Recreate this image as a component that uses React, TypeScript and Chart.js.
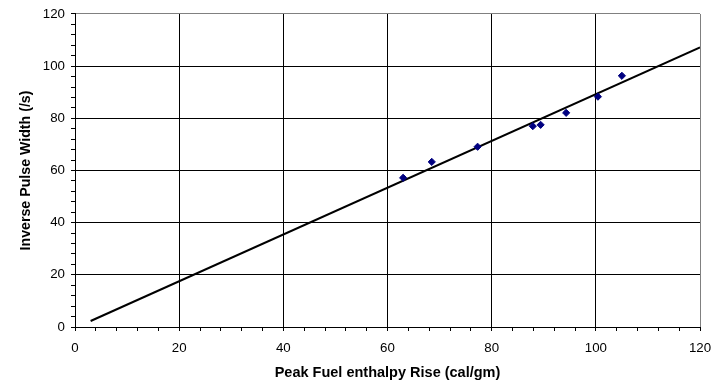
import React, { useEffect, useRef } from "react";
import { Chart, registerables } from "chart.js";

Chart.register(...registerables);

// Measured data (Peak fuel enthalpy rise vs inverse pulse width)
const enthalpyRise = [63.0, 68.5, 77.3, 87.9, 89.4, 94.3, 100.4, 105.0];
const inversePulseWidth = [57.2, 63.3, 69.1, 77.0, 77.5, 82.1, 88.3, 96.3];

// Linear fit line end points
const fitX = [3.0, 120];
const fitY = [2.3, 107.2];

const axisMin = 0;
const axisMax = 120;
const majorStep = 20;
const minorStep = 4;

const xTitle = "Peak Fuel enthalpy Rise (cal/gm)";
const yTitle = "Inverse Pulse Width (/s)";

const FONT = "'Liberation Sans', Arial, sans-serif";

export default function App() {
  const canvasRef = useRef<HTMLCanvasElement | null>(null);

  useEffect(() => {
    const canvas = canvasRef.current;
    if (!canvas) return;

    const scatterData = enthalpyRise.map((x, i) => ({ x, y: inversePulseWidth[i] }));
    const fitData = fitX.map((x, i) => ({ x, y: fitY[i] }));

    const gridColor = (ctx: any) => {
      const v = ctx.tick ? ctx.tick.value : 0;
      if (v === axisMax) return "#808080";
      if (v % majorStep === 0) return "#000000";
      return "rgba(0,0,0,0)";
    };

    const tickCb = (v: any) => (Number(v) % majorStep === 0 ? String(v) : "");

    const chart = new Chart(canvas, {
      type: "scatter",
      data: {
        datasets: [
          {
            label: "data",
            data: scatterData,
            pointStyle: "rectRot",
            pointRadius: 3.6,
            pointBackgroundColor: "#000080",
            pointBorderColor: "#000080",
            pointBorderWidth: 1,
            showLine: false,
          },
          {
            label: "fit",
            data: fitData,
            showLine: true,
            borderColor: "#000000",
            borderWidth: 2,
            pointRadius: 0,
            fill: false,
          },
        ],
      },
      options: {
        responsive: false,
        animation: false,
        events: [],
        layout: { padding: { top: 12, right: 27, bottom: 0, left: 18 } },
        plugins: {
          legend: { display: false },
          tooltip: { enabled: false },
        },
        scales: {
          x: {
            type: "linear",
            min: axisMin,
            max: axisMax,
            afterFit: (scale: any) => {
              scale.height = 57;
            },
            ticks: {
              stepSize: minorStep,
              autoSkip: false,
              maxRotation: 0,
              padding: 9,
              color: "#000",
              font: { family: FONT, size: 13.3 },
              callback: tickCb,
            },
            grid: {
              color: gridColor,
              lineWidth: 1,
              drawTicks: true,
              tickLength: 4,
              tickColor: "#000",
            },
            border: { color: "#000", width: 1 },
            title: {
              display: true,
              text: xTitle,
              color: "#000",
              font: { family: FONT, size: 14.5, weight: "bold" },
              padding: { top: 0, bottom: 2 },
            },
          },
          y: {
            type: "linear",
            min: axisMin,
            max: axisMax,
            afterFit: (scale: any) => {
              scale.width = 57;
            },
            ticks: {
              stepSize: minorStep,
              autoSkip: false,
              padding: 6,
              color: "#000",
              font: { family: FONT, size: 13.3 },
              callback: tickCb,
            },
            grid: {
              color: gridColor,
              lineWidth: 1,
              drawTicks: true,
              tickLength: 4,
              tickColor: "#000",
            },
            border: { color: "#000", width: 1 },
            title: {
              display: true,
              text: yTitle,
              color: "#000",
              font: { family: FONT, size: 14.2, weight: "bold" },
              padding: { top: 0, bottom: 0 },
            },
          },
        },
      },
    } as any);

    return () => {
      chart.destroy();
    };
  }, []);

  return (
    <div
      style={{
        position: "fixed",
        left: 0,
        top: 0,
        width: 727,
        height: 384,
        background: "#fff",
      }}
    >
      <canvas ref={canvasRef} width={727} height={384} style={{ display: "block" }} />
    </div>
  );
}
